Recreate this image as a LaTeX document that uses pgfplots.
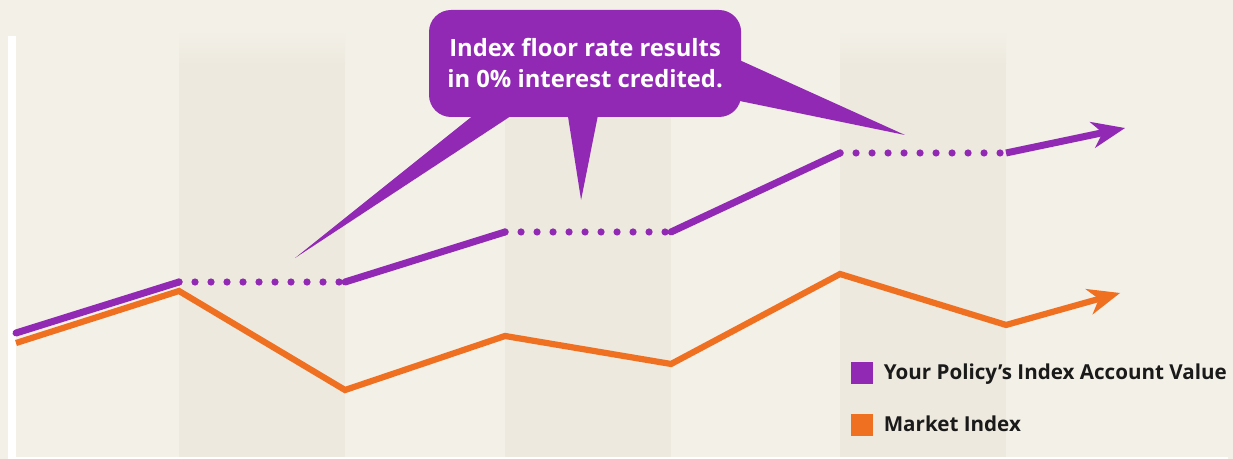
\documentclass[border=0pt]{standalone}
\usepackage{pgfplots}
\pgfplotsset{compat=1.18}
\usetikzlibrary{arrows.meta}
\usepackage{fontspec}
\setmainfont{Open Sans}
\definecolor{bgc}{HTML}{F3F0E8}
\definecolor{bandc}{HTML}{EDE9DE}
\definecolor{purp}{HTML}{9229B5}
\definecolor{orng}{HTML}{F07022}
\definecolor{txt}{HTML}{1A1A1A}
\begin{document}
\begin{tikzpicture}
\begin{axis}[
  width=616.5pt, height=229.5pt, scale only axis,
  xmin=-0.0783, xmax=7.349, ymin=0, ymax=100,
  hide axis, clip=false,
  legend style={at={(axis cs:5.048,21.13)}, anchor=north west, draw=none, fill=none,
    inner sep=0pt, outer sep=0pt, row sep=15pt, column sep=5.5pt,
    font=\fontsize{10.3}{12}\selectfont\bfseries, text=txt,
    nodes={inner sep=0pt}},
  legend cell align=left,
]
% background
\fill[bgc] (rel axis cs:0,0) rectangle (rel axis cs:1,1);
% bands
\shade[top color=bgc, bottom color=bandc] (axis cs:1,93.5) rectangle (axis cs:2,85.8);
\fill[bandc] (axis cs:1,85.8) rectangle (axis cs:2,0.44);
\shade[top color=bgc, bottom color=bandc] (axis cs:2.964,93.5) rectangle (axis cs:3.964,85.8);
\fill[bandc] (axis cs:2.964,85.8) rectangle (axis cs:3.964,0.44);
\shade[top color=bgc, bottom color=bandc] (axis cs:4.982,93.5) rectangle (axis cs:5.982,85.8);
\fill[bandc] (axis cs:4.982,85.8) rectangle (axis cs:5.982,0.44);
% white frame lines
\fill[white] (axis cs:-0.0301,0) rectangle (axis cs:0.0181,92.2);
\fill[white] (axis cs:0.0181,0) rectangle (axis cs:7.319,0.44);

% Market index
\addplot[orng, line width=3.1pt, line join=miter, -{Stealth[length=16pt,width=13pt,inset=5pt]}, forget plot] table {
x y
0.0181 25.27
1 36.6
2 15.03
2.964 26.8
3.964 20.7
4.982 40.3
5.982 29.2
6.669 36.17
};
% Policy index account value: solid segments
\addplot[purp, line width=3.5pt, line cap=round, forget plot] table {
x y
0.0181 27.45
1 38.56
};
\addplot[purp, line width=3.5pt, line cap=round, forget plot] table {
x y
2 38.56
2.964 49.46
};
\addplot[purp, line width=3.5pt, line cap=round, forget plot] table {
x y
3.964 49.46
4.982 66.67
};
\addplot[purp, line width=3.5pt, line join=miter, -{Stealth[length=16.5pt,width=13pt,inset=5pt]}, forget plot] table {
x y
5.982 66.67
6.699 72.11
};
% dotted flat segments (0% credited)
\addplot[purp, line width=3.6pt, line cap=round, dash pattern=on 0pt off 8pt, forget plot] table {
x y
1 38.56
2 38.56
};
\addplot[purp, line width=3.6pt, line cap=round, dash pattern=on 0pt off 8pt, forget plot] table {
x y
2.964 49.46
3.964 49.46
};
\addplot[purp, line width=3.6pt, line cap=round, dash pattern=on 0pt off 8pt, forget plot] table {
x y
4.982 66.67
5.982 66.67
};

% callout
\fill[purp] (axis cs:2.813,76.03) -- (axis cs:3.054,76.03) -- (axis cs:1.699,43.79) -- cycle;
\fill[purp] (axis cs:3.337,76.03) -- (axis cs:3.530,76.03) -- (axis cs:3.422,56.43) -- cycle;
\fill[purp] (axis cs:4.349,87.36) -- (axis cs:4.349,78.21) -- (axis cs:5.373,70.59) -- cycle;
\fill[purp, rounded corners=11pt] (axis cs:2.506,97.82) rectangle (axis cs:4.386,74.51);
\node[text=white, align=center, font=\fontsize{11.9}{15.5}\selectfont\bfseries] at (axis cs:3.446,86.3)
  {Index floor rate results\\in 0\% interest credited.};

% legend
\addlegendimage{legend image code/.code={\fill[purp] (0pt,-5.25pt) rectangle (10.5pt,5.25pt);}}
\addlegendentry{Your Policy’s Index Account Value}
\addlegendimage{legend image code/.code={\fill[orng] (0pt,-5.25pt) rectangle (10.5pt,5.25pt);}}
\addlegendentry{Market Index}
\end{axis}
\pgfresetboundingbox
\path[use as bounding box] (current axis.south west) rectangle (current axis.north east);
\end{tikzpicture}
\end{document}
